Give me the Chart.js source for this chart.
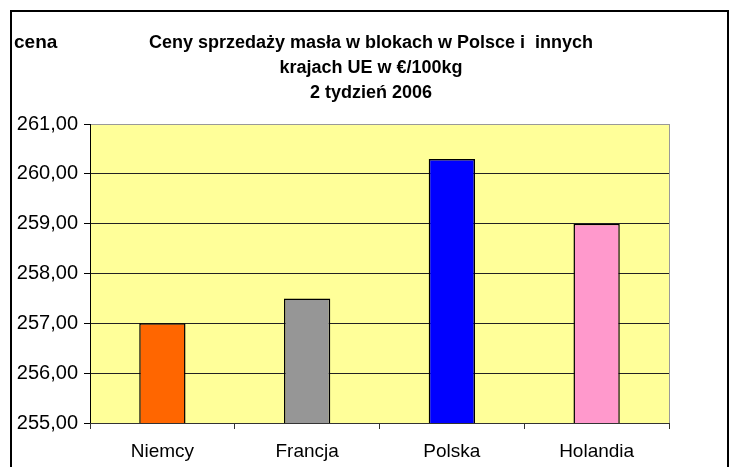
<!DOCTYPE html>
<html>
<head>
<meta charset="utf-8">
<script src="https://cdn.jsdelivr.net/npm/chart.js@4"></script>
<style>
  html, body { margin: 0; padding: 0; background: #fff; }
  #wrap { width: 733px; height: 467px; }
</style>
</head>
<body>
<div id="wrap"><canvas id="chart" width="733" height="467"></canvas></div>
<script>
const countries = ['Niemcy', 'Francja', 'Polska', 'Holandia'];
const prices = [257.0, 257.5, 260.3, 259.0];
const barColors = ['#FF6600', '#969696', '#0000FF', '#FF99CC'];
const titleLines = ['Ceny sprzedaży masła w blokach w Polsce i  innych', 'krajach UE w €/100kg', '2 tydzień 2006'];
const axisLabel = 'cena';
const yMin = 255;
const yMax = 261;
const yStep = 1;

// background of the plot, outer frame and the texts on top
const decor = {
    id: 'decor',
    beforeDraw(chart) {
        const { ctx, chartArea: a } = chart;
        ctx.save();
        ctx.fillStyle = '#FFFF99';
        ctx.fillRect(a.left, a.top, a.right - a.left, a.bottom - a.top);
        ctx.restore();
    },
    afterDraw(chart) {
        const { ctx, chartArea: a } = chart;
        ctx.save();
        // grey right border of plot
        ctx.strokeStyle = '#999999';
        ctx.lineWidth = 1;
        ctx.beginPath();
        ctx.moveTo(a.right + 0.5, a.top);
        ctx.lineTo(a.right + 0.5, a.bottom);
        ctx.stroke();
        // outer frame
        ctx.strokeStyle = '#000';
        ctx.lineWidth = 2;
        ctx.strokeRect(11, 11, 717, 480);
        // texts
        ctx.fillStyle = '#000';
        ctx.textBaseline = 'middle';
        ctx.font = 'bold 19px "Liberation Sans", Arial, sans-serif';
        ctx.textAlign = 'left';
        ctx.fillText(axisLabel, 14, 43);
        ctx.font = 'bold 18px "Liberation Sans", Arial, sans-serif';
        ctx.textAlign = 'center';
        titleLines.forEach((line, i) => ctx.fillText(line, 371, 43 + i * 25));
        ctx.restore();
    }
};

const ctx = document.getElementById('chart').getContext('2d');
new Chart(ctx, {
    type: 'bar',
    data: {
        labels: countries,
        datasets: [{
            data: prices,
            backgroundColor: barColors,
            borderColor: '#000',
            borderWidth: 1.5,
            borderSkipped: false,
            categoryPercentage: 1,
            barPercentage: 0.32
        }]
    },
    options: {
        responsive: false,
        animation: false,
        layout: { padding: { left: 0, right: 64, top: 124, bottom: 0 } },
        plugins: {
            legend: { display: false },
            title: { display: false },
            tooltip: { enabled: false }
        },
        scales: {
            y: {
                min: yMin,
                max: yMax,
                afterFit: s => { s.width = 90; },
                ticks: {
                    stepSize: yStep,
                    color: '#000',
                    padding: 6,
                    font: { family: '"Liberation Sans", Arial, sans-serif', size: 20 },
                    callback: v => v.toFixed(2).replace('.', ',')
                },
                grid: {
                    color: ctx => ctx.tick && ctx.tick.value === yMax ? '#999999' : '#222222',
                    tickColor: '#000',
                    tickLength: 6,
                    lineWidth: 1
                },
                border: { color: '#000', width: 1 }
            },
            x: {
                afterFit: s => { s.height = 44; },
                ticks: {
                    color: '#000',
                    padding: 11,
                    font: { family: '"Liberation Sans", Arial, sans-serif', size: 19 }
                },
                grid: {
                    offset: true,
                    drawOnChartArea: false,
                    tickColor: '#333',
                    tickLength: 6
                },
                border: { color: '#333', width: 1 }
            }
        }
    },
    plugins: [decor]
});
</script>
</body>
</html>
